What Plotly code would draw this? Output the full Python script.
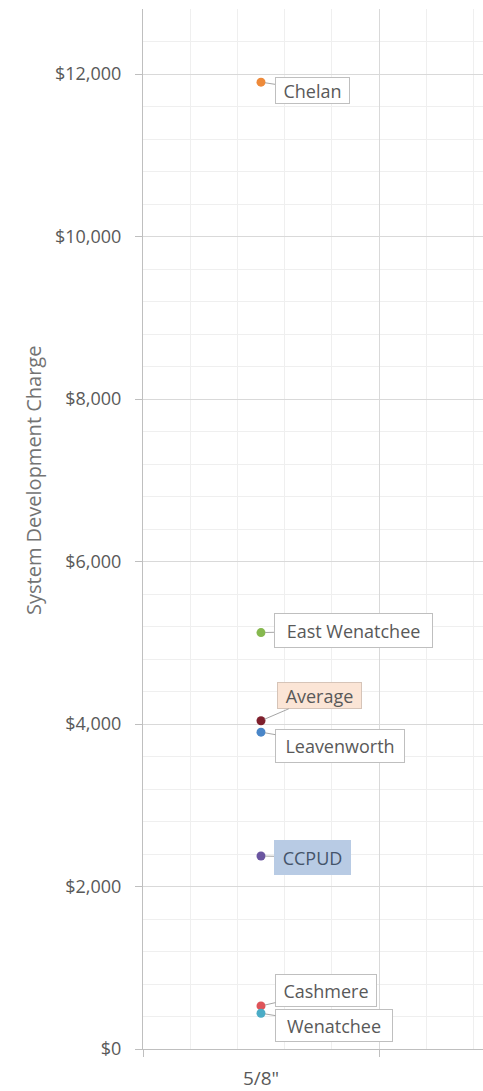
import plotly.graph_objects as go

# ---- data ----
sizes = ['5/8"']
cities = ["Chelan", "East Wenatchee", "Average", "Leavenworth", "CCPUD", "Cashmere", "Wenatchee"]
charges = [11900, 5125, 4040, 3900, 2375, 530, 440]
marker_colors = ["#EE8A3A", "#86B84F", "#7E1F2C", "#4A86C8", "#6A55A0", "#DE5459", "#4BACC6"]

# label styling (offsets in pixels, box sizes)
label_dx = [51, 92, 58, 79, 51, 65, 73]
label_dy = [8, -2, -25, 14, 1, -15, 12]
label_w = [75, 159, 85, 130, 77, 102, 118]
label_h = [27, 35, 27, 34, 35, 33, 33]
label_bg = ["#FFFFFF", "#FFFFFF", "#FBE5D6", "#FFFFFF", "#B8CBE4", "#FFFFFF", "#FFFFFF"]
label_border = ["#BFBFBF", "#BFBFBF", "#D6C4B8", "#BFBFBF", "#B8CBE4", "#BFBFBF", "#BFBFBF"]
label_fc = ["#595959", "#595959", "#595959", "#595959", "#44546A", "#595959", "#595959"]

FONT = "Open Sans"
W, H = 483, 1091
ML, MR, MT, MB = 143, 0, 9, 42

fig = go.Figure()
for name, val, col in zip(cities, charges, marker_colors):
    fig.add_trace(go.Scatter(x=[sizes[0]], y=[val], mode="markers", name=name,
                             marker=dict(size=9, color=col), xaxis="x", yaxis="y",
                             hoverinfo="name+y"))

# empty helper trace so the numeric grid axis (x2) is rendered
fig.add_trace(go.Scatter(x=[], y=[], xaxis="x2", yaxis="y", hoverinfo="skip",
                         showlegend=False))

annotations = []
for i, (name, val) in enumerate(zip(cities, charges)):
    annotations.append(dict(
        x=sizes[0], y=val, xref="x", yref="y", text=name,
        showarrow=True, arrowhead=0, arrowwidth=1, arrowcolor="#A6A6A6",
        ax=label_dx[i], ay=label_dy[i], standoff=4,
        bgcolor=label_bg[i], bordercolor=label_border[i], borderwidth=1, borderpad=0,
        width=label_w[i] - 2, height=label_h[i] - 2,
        font=dict(family=FONT, size=18, color=label_fc[i]),
    ))

plot_w = W - ML - MR
plot_h = H - MT - MB
annotations.append(dict(
    text="System Development Charge", textangle=-90, showarrow=False,
    xref="paper", yref="paper", x=(33 - ML) / plot_w, y=(H - MB - 481) / plot_h,
    xanchor="center", yanchor="middle",
    font=dict(family=FONT, size=20, color="#737373"),
))

span = plot_w / 236.0
fig.update_layout(
    width=W, height=H, margin=dict(l=ML, r=MR, t=MT, b=MB, autoexpand=False),
    paper_bgcolor="white", plot_bgcolor="white", showlegend=False,
    font=dict(family=FONT, color="#595959"),
    annotations=annotations,
    yaxis=dict(range=[0, 12800], dtick=2000, tickprefix="$", tickformat=",",
               gridcolor="#D9D9D9", gridwidth=1,
               minor=dict(dtick=400, showgrid=True, gridcolor="#EFEFEF", ticks=""),
               showline=True, linecolor="#BFBFBF", linewidth=1,
               ticks="outside", ticklen=7, tickcolor="#BFBFBF",
               ticklabelstandoff=10, automargin=False,
               tickfont=dict(family=FONT, size=18, color="#595959"),
               zeroline=False),
    xaxis=dict(type="category", range=[-0.5, -0.5 + span], showgrid=False,
               showline=True, linecolor="#BFBFBF", linewidth=1, ticks="",
               tickfont=dict(family=FONT, size=19, color="#595959"),
               ticklabelstandoff=12, automargin=False, zeroline=False),
    xaxis2=dict(overlaying="x", anchor="y", side="bottom", type="linear",
                range=[0, span], dtick=1, showgrid=True, gridcolor="#D9D9D9",
                minor=dict(dtick=0.2, showgrid=True, gridcolor="#EFEFEF", ticks=""),
                showticklabels=False, ticks="outside", ticklen=7, tickcolor="#BFBFBF",
                showline=False, zeroline=False, automargin=False),
)

fig.write_html("out.html")
